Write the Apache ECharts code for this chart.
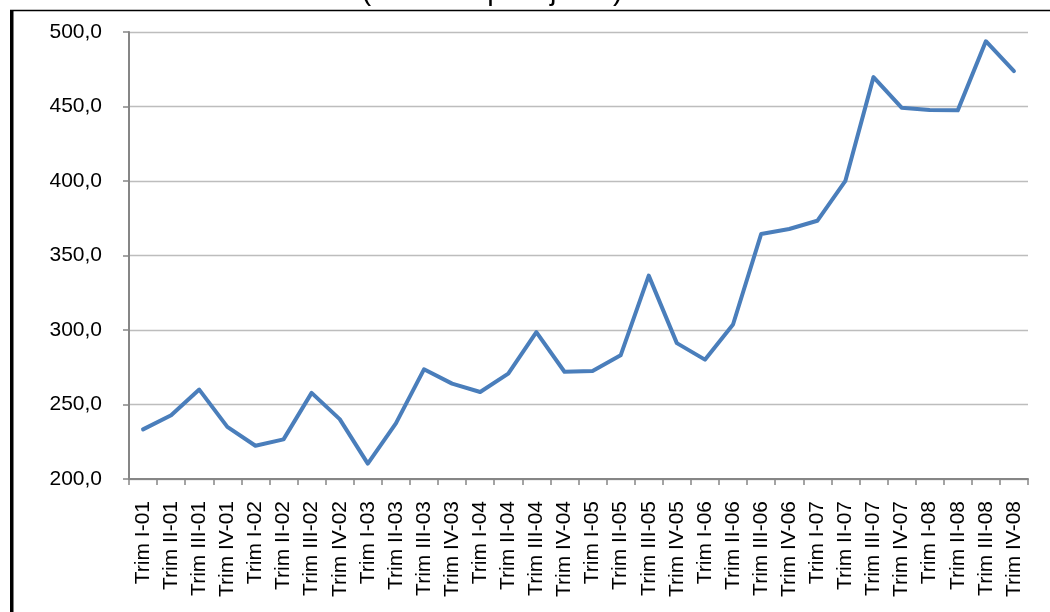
<!DOCTYPE html>
<html>
<head>
<meta charset="utf-8">
<script src="https://cdn.jsdelivr.net/npm/echarts@6/dist/echarts.min.js"></script>
<style>
  html, body { margin: 0; padding: 0; background: #fff; }
  #chart { width: 1050px; height: 612px; }
</style>
</head>
<body>
<div id="chart"></div>
<script>
// Quarterly passengers, thousands
const quarters = [
  'Trim I-01', 'Trim II-01', 'Trim III-01', 'Trim IV-01',
  'Trim I-02', 'Trim II-02', 'Trim III-02', 'Trim IV-02',
  'Trim I-03', 'Trim II-03', 'Trim III-03', 'Trim IV-03',
  'Trim I-04', 'Trim II-04', 'Trim III-04', 'Trim IV-04',
  'Trim I-05', 'Trim II-05', 'Trim III-05', 'Trim IV-05',
  'Trim I-06', 'Trim II-06', 'Trim III-06', 'Trim IV-06',
  'Trim I-07', 'Trim II-07', 'Trim III-07', 'Trim IV-07',
  'Trim I-08', 'Trim II-08', 'Trim III-08', 'Trim IV-08'
];
const passengers = [
  233.3, 242.8, 260.0, 235.0,
  222.3, 226.6, 257.8, 240.2,
  210.3, 237.3, 273.6, 264.0,
  258.4, 270.7, 298.6, 272.0,
  272.5, 283.0, 336.5, 291.2,
  280.1, 303.7, 364.4, 367.8,
  373.3, 400.1, 469.7, 449.2,
  447.6, 447.4, 493.8, 473.8
];
const titleText = '(miles de pasajeros)';
const yMin = 200, yMax = 500, yStep = 50;

const chart = echarts.init(document.getElementById('chart'), null, { renderer: 'canvas' });
const font = '"Liberation Sans", Arial, sans-serif';

chart.setOption({
  animation: false,
  backgroundColor: '#ffffff',
  grid: { left: 129, right: 22, top: 32, bottom: 133, containLabel: false },
  xAxis: {
    type: 'category',
    data: quarters,
    boundaryGap: true,
    axisLine: { show: true, lineStyle: { color: '#868686', width: 2 } },
    axisTick: { show: true, length: 6, alignWithLabel: false, lineStyle: { color: '#868686', width: 1.5 } },
    axisLabel: {
      interval: 0,
      rotate: 90,
      margin: 22,
      color: '#000',
      fontFamily: font,
      fontSize: 21
    },
    splitLine: { show: false }
  },
  yAxis: {
    type: 'value',
    min: yMin,
    max: yMax,
    interval: yStep,
    axisLine: { show: true, lineStyle: { color: '#868686', width: 2 } },
    axisTick: { show: true, length: 6, lineStyle: { color: '#868686', width: 1.5 } },
    axisLabel: {
      margin: 27,
      color: '#000',
      fontFamily: font,
      fontSize: 21,
      formatter: v => v.toFixed(1).replace('.', ',')
    },
    splitLine: { show: true, lineStyle: { color: '#bdbdbd', width: 1.3 } }
  },
  series: [{
    type: 'line',
    data: passengers,
    showSymbol: false,
    symbol: 'none',
    lineStyle: { color: '#4a7ebb', width: 4, cap: 'round', join: 'round' },
    itemStyle: { color: '#4a7ebb' }
  }],
  graphic: [
    {
      type: 'text',
      x: 492,
      y: -8,
      style: {
        text: titleText,
        align: 'center',
        verticalAlign: 'middle',
        fill: '#000',
        font: '29px ' + font
      },
      silent: true
    },
    {
      type: 'line',
      shape: { x1: 10, y1: 10.5, x2: 1050, y2: 10.5 },
      style: { stroke: '#000', lineWidth: 1.5 },
      silent: true
    },
    {
      type: 'rect',
      shape: { x: 10, y: 10, width: 3.5, height: 602 },
      style: { fill: '#000' },
      silent: true
    }
  ]
});
</script>
</body>
</html>
